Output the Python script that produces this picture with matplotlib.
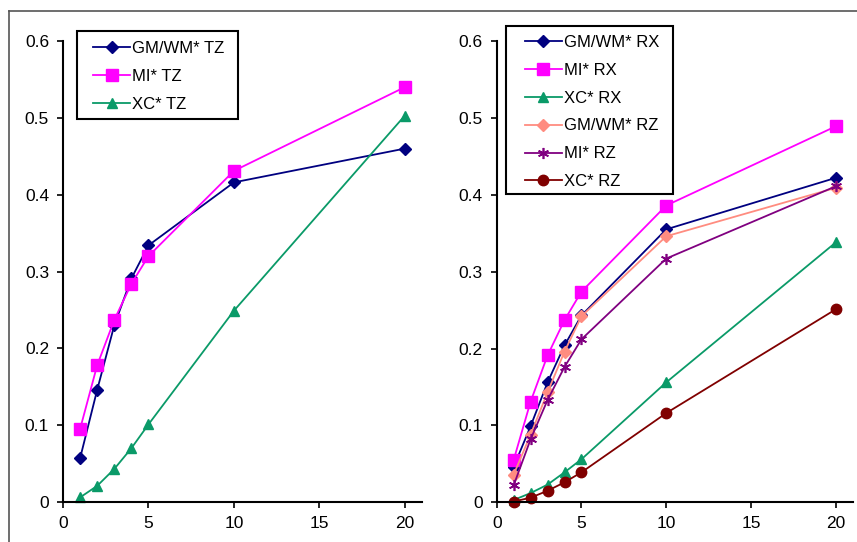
import numpy as np
import matplotlib
matplotlib.use('Agg')
import matplotlib.pyplot as plt
from matplotlib.lines import Line2D
from matplotlib.patches import Rectangle

plt.rcParams['font.family'] = ['Liberation Sans', 'DejaVu Sans']

# 数据
x = [1, 2, 3, 4, 5, 10, 20]

gm_tz = [0.057, 0.146, 0.230, 0.291, 0.334, 0.416, 0.460]
mi_tz = [0.095, 0.178, 0.237, 0.284, 0.320, 0.431, 0.540]
xc_tz = [0.006, 0.021, 0.043, 0.070, 0.101, 0.249, 0.503]

gm_rx = [0.046, 0.099, 0.156, 0.204, 0.243, 0.355, 0.422]
mi_rx = [0.055, 0.131, 0.191, 0.237, 0.274, 0.386, 0.489]
xc_rx = [0.003, 0.012, 0.023, 0.039, 0.056, 0.156, 0.338]
gm_rz = [0.036, 0.088, 0.143, 0.196, 0.242, 0.346, 0.409]
mi_rz = [0.022, 0.082, 0.133, 0.176, 0.212, 0.317, 0.411]
xc_rz = [0.001, 0.006, 0.015, 0.026, 0.039, 0.116, 0.251]

left_labels = ['GM/WM* TZ', 'MI* TZ', 'XC* TZ']
right_labels = ['GM/WM* RX', 'MI* RX', 'XC* RX', 'GM/WM* RZ', 'MI* RZ', 'XC* RZ']

NAVY = '#000080'
MAGENTA = '#FF00FF'
GREEN = '#0A9A68'
SALMON = '#FF8C80'
PURPLE = '#800080'
DARKRED = '#800000'

W, H = 857, 542
fig = plt.figure(figsize=(W / 100, H / 100), dpi=100)

def fx(px):
    return px / W

def fy(py):
    return 1 - py / H

ax1 = fig.add_axes([fx(63), fy(502), fx(422 - 63), (502 - 41) / H])
ax2 = fig.add_axes([fx(496.7), fy(502.3), fx(852.7 - 496.7), (502.3 - 41) / H])

lw = 1.3
ax1.plot(x, gm_tz, color=NAVY, marker='D', ms=6, lw=lw, label=left_labels[0])
ax1.plot(x, mi_tz, color=MAGENTA, marker='s', ms=8, lw=lw, label=left_labels[1])
ax1.plot(x, xc_tz, color=GREEN, marker='^', ms=7.5, lw=lw, label=left_labels[2])

ax2.plot(x, gm_rx, color=NAVY, marker='D', ms=6, lw=lw, label=right_labels[0])
ax2.plot(x, mi_rx, color=MAGENTA, marker='s', ms=8, lw=lw, label=right_labels[1])
ax2.plot(x, xc_rx, color=GREEN, marker='^', ms=7.5, lw=lw, label=right_labels[2])
ax2.plot(x, gm_rz, color=SALMON, marker='D', ms=6, lw=lw, label=right_labels[3])
ax2.plot(x, mi_rz, color=PURPLE, marker=(6, 2, 0), ms=8, mew=1.2, lw=lw, label=right_labels[4])
ax2.plot(x, xc_rz, color=DARKRED, marker='o', ms=7.5, lw=lw, label=right_labels[5])

for ax in (ax1, ax2):
    ax.set_xlim(0, 21)
    ax.set_ylim(0, 0.6)
    ax.set_xticks([0, 5, 10, 15, 20])
    ax.set_yticks([0, 0.1, 0.2, 0.3, 0.4, 0.5, 0.6])
    ax.set_yticklabels(['0', '0.1', '0.2', '0.3', '0.4', '0.5', '0.6'])
    ax.spines['top'].set_visible(False)
    ax.spines['right'].set_visible(False)
    ax.spines['left'].set_linewidth(1.5)
    ax.spines['bottom'].set_linewidth(1.5)
    ax.tick_params(direction='out', length=4, width=1.2, labelsize=12.5, pad=6)
    for ln in ax.lines:
        ln.set_clip_on(False)

leg_kw = dict(loc='upper left', fontsize=12, frameon=False,
              handlelength=2.2, handletextpad=0.12, labelspacing=0.77,
              borderpad=0, borderaxespad=0)
ax1.legend(bbox_to_anchor=(fx(93.3), fy(41)), bbox_transform=fig.transFigure, **leg_kw)
ax2.legend(bbox_to_anchor=(fx(525), fy(35)), bbox_transform=fig.transFigure, **leg_kw)

# 图例边框
for (x0, y0, x1, y1) in [(76.7, 31, 238, 119), (505.7, 26, 673.3, 194)]:
    fig.add_artist(Rectangle((fx(x0), fy(y1)), fx(x1 - x0), (y1 - y0) / H,
                             transform=fig.transFigure, fill=False,
                             edgecolor='black', lw=1.5))

# 外框
fig.add_artist(Line2D([fx(9), fx(9)], [0, fy(11)], transform=fig.transFigure, color='#555555', lw=1.2))
fig.add_artist(Line2D([fx(9), 1], [fy(11), fy(11)], transform=fig.transFigure, color='#555555', lw=1.2))

fig.savefig('out.png', dpi=100)
